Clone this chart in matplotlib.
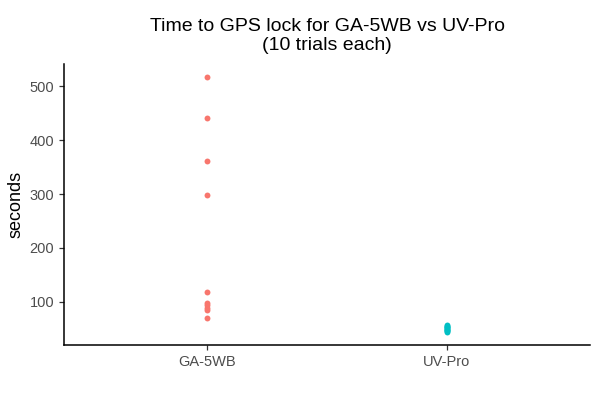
import matplotlib.pyplot as plt

plt.rcParams['font.family'] = ['Liberation Sans', 'DejaVu Sans']

devices = ['GA-5WB', 'UV-Pro']
ga5wb_secs = [518, 442, 362, 298, 117, 98, 93, 88, 84, 70]
uvpro_secs = [57, 55, 53, 52, 50, 49, 48, 47, 45, 43]
colors = ['#F8766D', '#00BFC4']

fig = plt.figure(figsize=(6, 4), dpi=100)
ax = fig.add_axes([64 / 600, 55 / 400, 526 / 600, 281 / 400])

for i, (vals, c) in enumerate(zip([ga5wb_secs, uvpro_secs], colors)):
    ax.scatter([i + 1] * len(vals), vals, s=18, color=c, linewidths=0, zorder=3)

allv = ga5wb_secs + uvpro_secs
lo, hi = min(allv), max(allv)
pad = 0.05 * (hi - lo)
ax.set_ylim(lo - pad, hi + pad)
ax.set_xlim(0.4, 2.6)
ax.set_xticks([1, 2])
ax.set_xticklabels(devices)
ax.set_yticks([100, 200, 300, 400, 500])

for s in ['top', 'right']:
    ax.spines[s].set_visible(False)
for s in ['left', 'bottom']:
    ax.spines[s].set_linewidth(1.1)
ax.tick_params(colors='#4D4D4D', labelsize=10.5, length=3.5, width=0.9)
ax.tick_params(axis='both', color='#333333')

ax.set_ylabel('seconds', fontsize=13, color='black')
ax.set_title('Time to GPS lock for GA-5WB vs UV-Pro\n(10 trials each)',
             fontsize=14, pad=10, linespacing=1.15)

fig.savefig('out.png', dpi=100)
